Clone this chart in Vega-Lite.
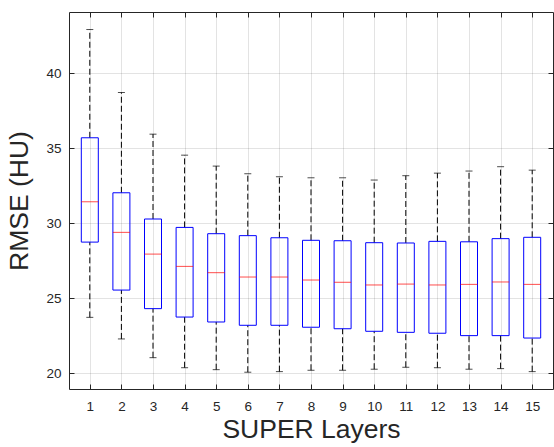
{
  "$schema": "https://vega.github.io/schema/vega-lite/v6.json",
  "width": 484,
  "height": 377,
  "autosize": {"type": "none"},
  "padding": {"left": 69, "top": 12, "right": 1, "bottom": 58},
  "background": "white",
  "config": {
    "view": {"stroke": "#262626", "strokeWidth": 1},
    "font": "Liberation Sans",
    "axis": {
      "labelFont": "Liberation Sans",
      "titleFont": "Liberation Sans",
      "labelColor": "#262626",
      "titleColor": "#262626",
      "labelFontSize": 13.5,
      "titleFontSize": 26.5,
      "titleFontWeight": "normal",
      "domain": false,
      "tickColor": "#262626",
      "tickSize": -5,
      "gridColor": "#262626",
      "gridOpacity": 0.13
    }
  },
  "data": {
    "values": [
      {"layer": 1, "low": 23.73, "q1": 28.75, "med": 31.44, "q3": 35.71, "high": 42.93},
      {"layer": 2, "low": 22.29, "q1": 25.55, "med": 29.40, "q3": 32.04, "high": 38.73},
      {"layer": 3, "low": 21.04, "q1": 24.31, "med": 27.95, "q3": 30.29, "high": 35.95},
      {"layer": 4, "low": 20.37, "q1": 23.75, "med": 27.13, "q3": 29.73, "high": 34.55},
      {"layer": 5, "low": 20.24, "q1": 23.42, "med": 26.71, "q3": 29.31, "high": 33.82},
      {"layer": 6, "low": 20.07, "q1": 23.20, "med": 26.42, "q3": 29.18, "high": 33.31},
      {"layer": 7, "low": 20.11, "q1": 23.20, "med": 26.42, "q3": 29.04, "high": 33.11},
      {"layer": 8, "low": 20.20, "q1": 23.07, "med": 26.22, "q3": 28.87, "high": 33.04},
      {"layer": 9, "low": 20.20, "q1": 22.97, "med": 26.07, "q3": 28.84, "high": 33.04},
      {"layer": 10, "low": 20.27, "q1": 22.80, "med": 25.89, "q3": 28.71, "high": 32.89},
      {"layer": 11, "low": 20.40, "q1": 22.73, "med": 25.95, "q3": 28.69, "high": 33.18},
      {"layer": 12, "low": 20.37, "q1": 22.67, "med": 25.89, "q3": 28.80, "high": 33.35},
      {"layer": 13, "low": 20.27, "q1": 22.51, "med": 25.93, "q3": 28.77, "high": 33.49},
      {"layer": 14, "low": 20.31, "q1": 22.51, "med": 26.09, "q3": 28.98, "high": 33.78},
      {"layer": 15, "low": 20.11, "q1": 22.35, "med": 25.93, "q3": 29.07, "high": 33.55}
    ]
  },
  "resolve": {"axis": {"x": "independent", "y": "independent"}},
  "layer": [
    {
      "mark": {"type": "rule", "color": "#000000", "strokeWidth": 1, "strokeDash": [6, 3]},
      "encoding": {
        "x": {"field": "layer", "type": "quantitative", "scale": {"domain": [0.5, 15.5], "nice": false, "zero": false},
              "axis": {"values": [1,2,3,4,5,6,7,8,9,10,11,12,13,14,15], "title": "SUPER Layers", "labelPadding": 15, "titlePadding": 4, "grid": true}},
        "y": {"field": "q3", "type": "quantitative", "scale": {"domain": [18.95, 44.1], "nice": false, "zero": false},
              "axis": {"values": [20, 25, 30, 35, 40], "title": "RMSE (HU)", "labelPadding": 13, "titlePadding": 12, "grid": true}},
        "y2": {"field": "high"}
      }
    },
    {
      "mark": {"type": "rule", "color": "#000000", "strokeWidth": 1, "strokeDash": [6, 3]},
      "encoding": {
        "x": {"field": "layer", "type": "quantitative", "scale": {"domain": [0.5, 15.5], "nice": false, "zero": false},
              "axis": {"orient": "top", "values": [1,2,3,4,5,6,7,8,9,10,11,12,13,14,15], "labels": false, "title": null, "grid": false}},
        "y": {"field": "low", "type": "quantitative", "scale": {"domain": [18.95, 44.1], "nice": false, "zero": false},
              "axis": {"orient": "right", "values": [20, 25, 30, 35, 40], "labels": false, "title": null, "grid": false}},
        "y2": {"field": "q1"}
      }
    },
    {
      "mark": {"type": "tick", "orient": "horizontal", "color": "#000000", "size": 7, "thickness": 1},
      "encoding": {
        "x": {"field": "layer", "type": "quantitative", "axis": null},
        "y": {"field": "high", "type": "quantitative", "axis": null}
      }
    },
    {
      "mark": {"type": "tick", "orient": "horizontal", "color": "#000000", "size": 7, "thickness": 1},
      "encoding": {
        "x": {"field": "layer", "type": "quantitative", "axis": null},
        "y": {"field": "low", "type": "quantitative", "axis": null}
      }
    },
    {
      "mark": {"type": "bar", "orient": "vertical", "size": 17, "filled": false, "stroke": "#0000ff", "strokeWidth": 1},
      "encoding": {
        "x": {"field": "layer", "type": "quantitative", "axis": null},
        "y": {"field": "q1", "type": "quantitative", "axis": null},
        "y2": {"field": "q3"}
      }
    },
    {
      "mark": {"type": "tick", "orient": "horizontal", "color": "#ff0000", "size": 17, "thickness": 1},
      "encoding": {
        "x": {"field": "layer", "type": "quantitative", "axis": null},
        "y": {"field": "med", "type": "quantitative", "axis": null}
      }
    }
  ]
}
